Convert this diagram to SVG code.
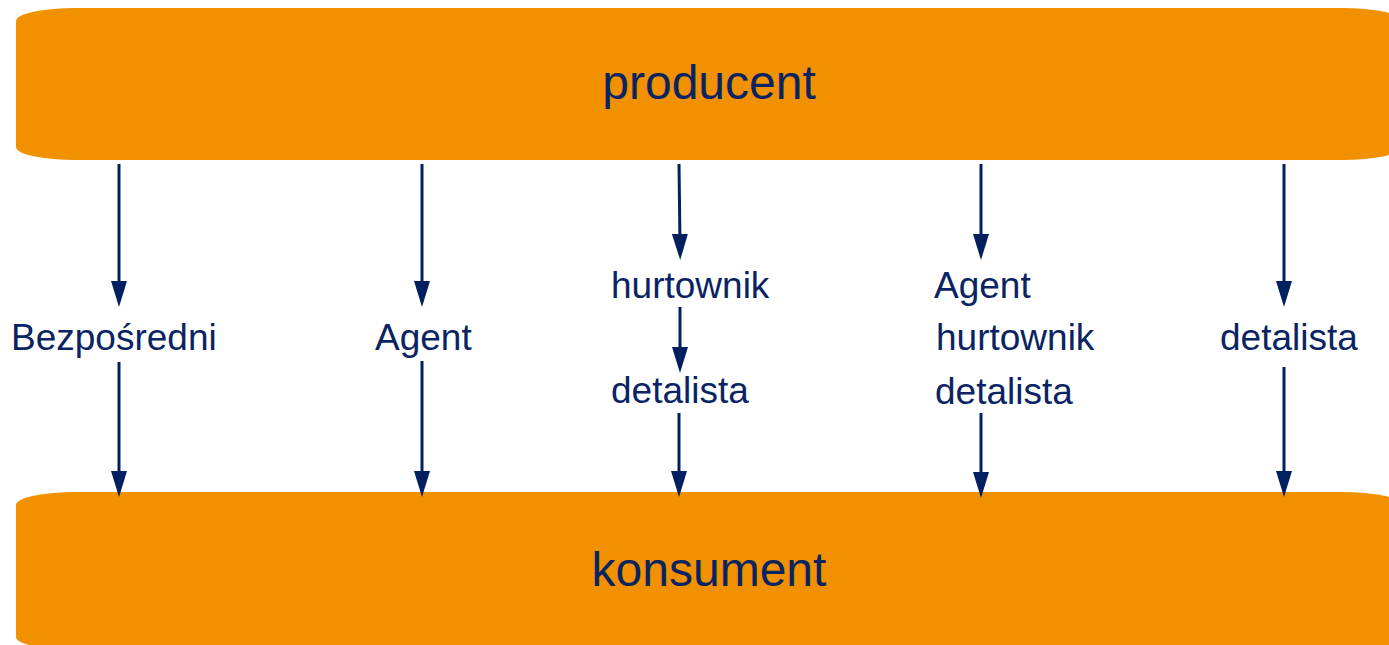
<svg xmlns="http://www.w3.org/2000/svg" width="1389" height="645" viewBox="0 0 1389 645">
  <style>
    .band { fill: #F29100; }
    .big { font-family: "Liberation Sans", Arial, sans-serif; font-size: 48px; fill: #0A2463; text-anchor: middle; }
    .lbl { font-family: "Liberation Sans", Arial, sans-serif; font-size: 37px; fill: #0A2463; }
    .conn { stroke: #002060; stroke-width: 3; fill: none; marker-end: url(#arrow); }
  </style>
  <defs>
    <marker id="arrow" markerUnits="userSpaceOnUse" markerWidth="30" markerHeight="20" viewBox="0 -10 30 20" refX="10" refY="0" orient="auto">
      <path d="M0,-8 L26,0 L0,8 Z" fill="#002060"/>
    </marker>
  </defs>
  <rect width="1389" height="645" fill="#ffffff"/>

  <g id="producent">
    <rect class="band" x="16" y="8" width="1386" height="152" rx="60" ry="13"/>
    <text class="big" x="709" y="99">producent</text>
  </g>

  <g id="konsument">
    <rect class="band" x="16" y="492" width="1386" height="158" rx="60" ry="13"/>
    <text class="big" x="709" y="586">konsument</text>
  </g>

  <g id="col1">
    <text class="lbl" x="11" y="350">Bezpośredni</text>
  </g>
  <g id="col2">
    <text class="lbl" x="375" y="350">Agent</text>
  </g>
  <g id="col3">
    <text class="lbl" x="611" y="298">hurtownik</text>
    <text class="lbl" x="611" y="403">detalista</text>
  </g>
  <g id="col4">
    <text class="lbl" x="934" y="298">Agent</text>
    <text class="lbl" x="936" y="350">hurtownik</text>
    <text class="lbl" x="935" y="404">detalista</text>
  </g>
  <g id="col5">
    <text class="lbl" x="1220" y="350">detalista</text>
  </g>

  <g id="connectors">
    <line class="conn" x1="119" y1="164" x2="119" y2="291"/>
    <line class="conn" x1="119" y1="362" x2="119" y2="481"/>
    <line class="conn" x1="422" y1="164" x2="422" y2="291"/>
    <line class="conn" x1="422" y1="361" x2="422" y2="481"/>
    <line class="conn" x1="679" y1="164" x2="680" y2="244"/>
    <line class="conn" x1="680" y1="307" x2="680" y2="357"/>
    <line class="conn" x1="679" y1="413" x2="679" y2="481"/>
    <line class="conn" x1="981" y1="164" x2="981" y2="244"/>
    <line class="conn" x1="981" y1="413" x2="981" y2="482"/>
    <line class="conn" x1="1284" y1="164" x2="1284" y2="291"/>
    <line class="conn" x1="1284" y1="367" x2="1284" y2="481"/>
  </g>
</svg>
